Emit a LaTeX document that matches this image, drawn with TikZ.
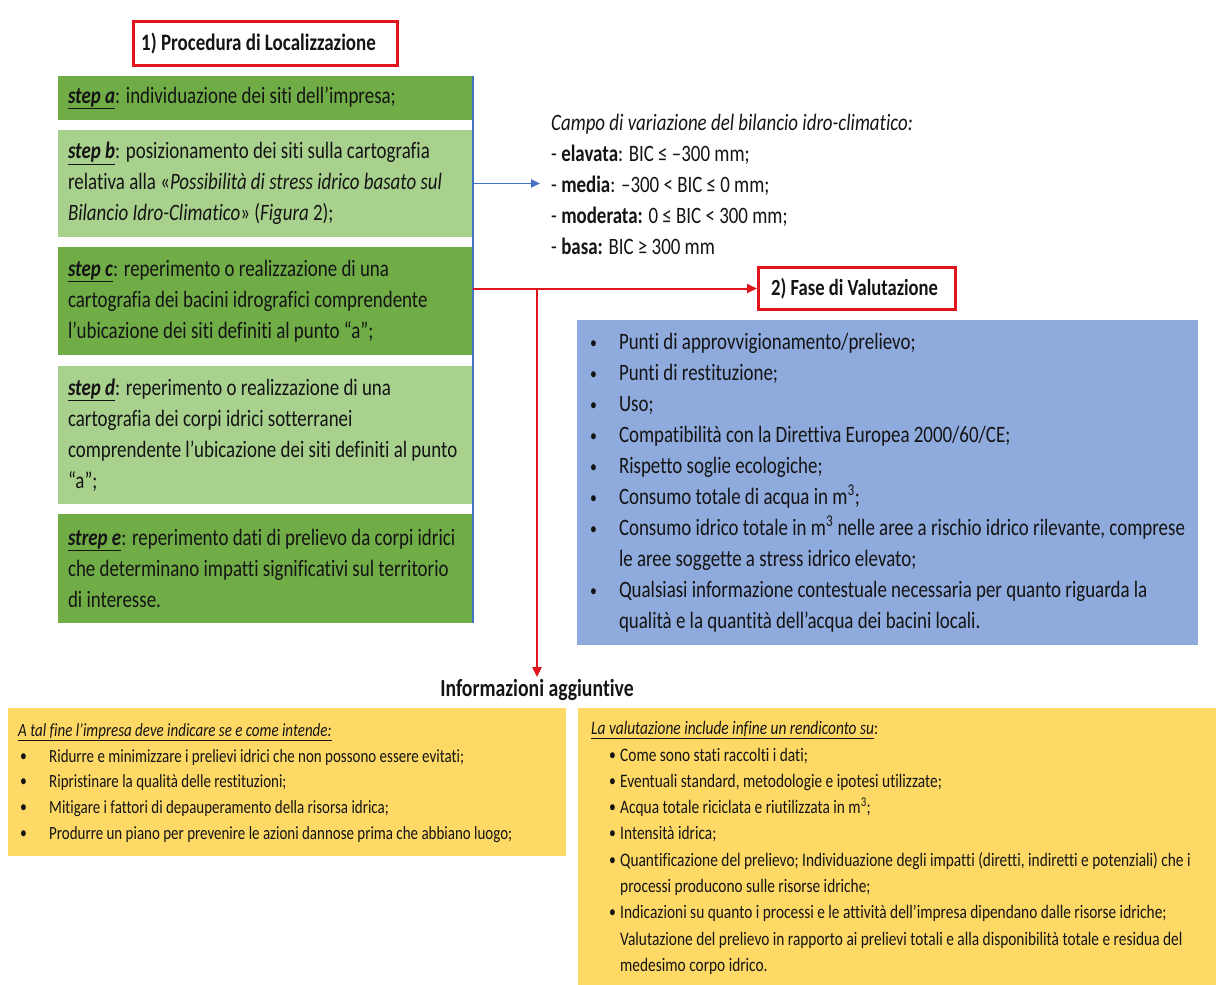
\documentclass[tikz,border=0pt]{standalone}
\usepackage{fontspec}
\setmainfont{Carlito}[FakeStretch=0.805,Ligatures=NoCommon]
\usetikzlibrary{arrows.meta}
\definecolor{dgreen}{HTML}{70AD47}
\definecolor{lgreen}{HTML}{A9D18E}
\definecolor{bfill}{HTML}{8FAADC}
\definecolor{yfill}{HTML}{FFD966}
\definecolor{rline}{HTML}{E0161E}
\definecolor{bline}{HTML}{4472C4}
\definecolor{ink}{HTML}{141414}
\newcommand\stp[1]{\underline{\textbf{\textit{#1}}}}
\newcommand\fA{\fontsize{23.5}{31}\selectfont}
\newcommand\fYL{\fontsize{18.6}{25.8}\selectfont}
\newcommand\fYR{\fontsize{19.1}{26.3}\selectfont}
\newcommand\fTa{\fontsize{23.6}{26}\selectfont\bfseries}
\newcommand\fTb{\fontsize{23.1}{26}\selectfont\bfseries}
\newcommand\fTc{\fontsize{24.5}{27}\selectfont\bfseries}
\newcommand\sbul{\raisebox{0.05em}{\fontsize{17}{17}\selectfont\textbullet}}
\newcommand\bA{\makebox[29pt][l]{\sbul}}
\newcommand\bL{\hspace*{2pt}\makebox[29pt][l]{\sbul}}
\newcommand\bR{\hspace*{18pt}\makebox[11pt][l]{\sbul}}
\begin{document}
\begin{tikzpicture}[x=1pt,y=-1pt,
  fillbox/.style={draw=none, inner sep=0pt, anchor=center},
  txt/.style={inner sep=0pt, align=left, anchor=west, text=ink},
  redbox/.style={draw=rline, line width=3pt, fill=white, inner sep=0pt},
  redarrow/.style={draw=rline, line width=2pt, -{Triangle[length=10pt,width=9pt]}},
  bluearrow/.style={draw=bline, line width=1.8pt, -{Triangle[length=9pt,width=8pt]}}]
\useasboundingbox[fill=white] (0,0) rectangle (1216,985);

% title 1
\node[redbox, minimum width=264pt, minimum height=44pt] (t1) at (265.5,43.5) {};
\node[txt, font=\fTa] (t1t) at ([xshift=9pt]t1.west) {1) Procedura di Localizzazione};

% steps
\node[fillbox, fill=dgreen, minimum width=415pt, minimum height=44pt] (stepa) at (265.5,98) {};
\node[fillbox, fill=lgreen, minimum width=415pt, minimum height=107pt] (stepb) at (265.5,183.5) {};
\node[fillbox, fill=dgreen, minimum width=415pt, minimum height=108pt] (stepc) at (265.5,301) {};
\node[fillbox, fill=lgreen, minimum width=415pt, minimum height=138pt] (stepd) at (265.5,435) {};
\node[fillbox, fill=dgreen, minimum width=415pt, minimum height=109pt] (stepe) at (265.5,568.5) {};

\node[txt, font=\fA] (sta) at ([xshift=10pt]stepa.west) {\stp{step a}: individuazione dei siti dell’impresa;};
\node[txt, font=\fA] (stb) at ([xshift=10pt]stepb.west) {\stp{step b}: posizionamento dei siti sulla cartografia\\relativa alla «\textit{Possibilità di stress idrico basato sul}\\\textit{Bilancio Idro-Climatico}» (\textit{Figura} 2);};
\node[txt, font=\fA] (stc) at ([xshift=10pt]stepc.west) {\stp{step c}: reperimento o realizzazione di una\\cartografia dei bacini idrografici comprendente\\l’ubicazione dei siti definiti al punto “a”;};
\node[txt, font=\fA] (std) at ([xshift=10pt]stepd.west) {\stp{step d}: reperimento o realizzazione di una\\cartografia dei corpi idrici sotterranei\\comprendente l’ubicazione dei siti definiti al punto\\“a”;};
\node[txt, font=\fA] (ste) at ([xshift=10pt]stepe.west) {\stp{strep e}: reperimento dati di prelievo da corpi idrici\\che determinano impatti significativi sul territorio\\di interesse.};

\draw[bline, line width=2pt] (stepa.north east) -- (stepe.south east);

% campo text
\node[txt, font=\fA] (campo) at (551,184) {\textit{Campo di variazione del bilancio idro-climatico:}\\
- \textbf{elavata}: BIC ≤ –300 mm;\\
- \textbf{media}: –300 < BIC ≤ 0 mm;\\
- \textbf{moderata:} 0 ≤ BIC < 300 mm;\\
- \textbf{basa:} BIC ≥ 300 mm};
\coordinate (btip) at (540,183.5);
\draw[bluearrow] (stepb.east) -- (btip);

% fase
\node[redbox, minimum width=197pt, minimum height=42pt] (fase) at (857,288.5) {};
\node[txt, font=\fTb] (faset) at ([xshift=14pt]fase.west) {2) Fase di Valutazione};

% blue box
\node[fillbox, fill=bfill, minimum width=621pt, minimum height=325pt] (blu) at (887.5,482.5) {};
\node[txt, font=\fA] (blut) at ([xshift=13pt]blu.west) {\bA Punti di approvvigionamento/prelievo;\\
\bA Punti di restituzione;\\
\bA Uso;\\
\bA Compatibilità con la Direttiva Europea 2000/60/CE;\\
\bA Rispetto soglie ecologiche;\\
\bA Consumo totale di acqua in m\textsuperscript{3};\\
\bA Consumo idrico totale in m\textsuperscript{3} nelle aree a rischio idrico rilevante, comprese\\
\hspace*{29pt}le aree soggette a stress idrico elevato;\\
\bA Qualsiasi informazione contestuale necessaria per quanto riguarda la\\
\hspace*{29pt}qualità e la quantità dell'acqua dei bacini locali.};

% informazioni
\node[inner sep=2pt, font=\fTc, text=ink] (info) at (537,690) {Informazioni aggiuntive};

% yellow boxes
\node[fillbox, fill=yfill, minimum width=558pt, minimum height=148pt] (yl) at (287,782) {};
\node[txt, font=\fYL] (ylt) at (18,783) {\underline{\textit{A tal fine l’impresa deve indicare se e come intende:}}\\
\bL Ridurre e minimizzare i prelievi idrici che non possono essere evitati;\\
\bL Ripristinare la qualità delle restituzioni;\\
\bL Mitigare i fattori di depauperamento della risorsa idrica;\\
\bL Produrre un piano per prevenire le azioni dannose prima che abbiano luogo;};

\node[fillbox, fill=yfill, minimum width=638pt, minimum height=277pt] (yr) at (897,846.5) {};
\node[txt, font=\fYR] (yrt) at (591,848) {\underline{\textit{La valutazione include infine un rendiconto su}}:\\
\bR Come sono stati raccolti i dati;\\
\bR Eventuali standard, metodologie e ipotesi utilizzate;\\
\bR Acqua totale riciclata e riutilizzata in m\textsuperscript{3};\\
\bR Intensità idrica;\\
\bR Quantificazione del prelievo; Individuazione degli impatti (diretti, indiretti e potenziali) che i\\
\hspace*{29pt}processi producono sulle risorse idriche;\\
\bR Indicazioni su quanto i processi e le attività dell’impresa dipendano dalle risorse idriche;\\
\hspace*{29pt}Valutazione del prelievo in rapporto ai prelievi totali e alla disponibilità totale e residua del\\
\hspace*{29pt}medesimo corpo idrico.};

% red connectors
\draw[redarrow] (stepc.east |- fase.west) -- (fase.west);
\draw[redarrow] (info.north |- fase.west) -- (info.north);
\end{tikzpicture}
\end{document}
